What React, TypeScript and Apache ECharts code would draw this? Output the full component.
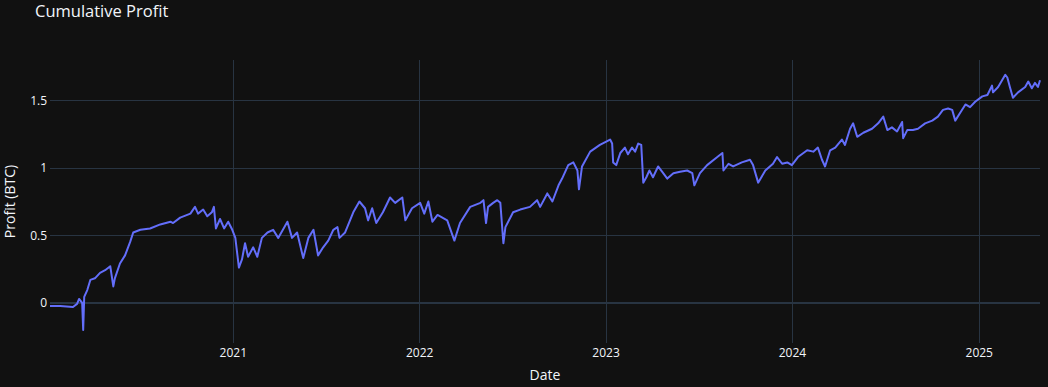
import React, { useEffect, useRef } from 'react';
import * as echarts from 'echarts';

const dates: string[] = [
  '2020-01-08','2020-01-28','2020-02-22','2020-03-01','2020-03-05','2020-03-11','2020-03-13','2020-03-15','2020-03-21','2020-03-27',
  '2020-04-05','2020-04-15','2020-04-25','2020-05-05','2020-05-11','2020-05-14','2020-05-24','2020-06-03','2020-06-13','2020-06-19',
  '2020-07-03','2020-07-22','2020-08-11','2020-08-31','2020-09-05','2020-09-19','2020-10-09','2020-10-18','2020-10-24','2020-11-03',
  '2020-11-11','2020-11-20','2020-11-24','2020-11-28','2020-12-06','2020-12-14','2020-12-22','2020-12-30',
  '2021-01-05','2021-01-12','2021-01-18','2021-01-24','2021-01-30','2021-02-09','2021-02-17','2021-02-26','2021-03-09','2021-03-20',
  '2021-03-30','2021-04-17','2021-04-26','2021-05-06','2021-05-18','2021-05-28','2021-06-07','2021-06-16','2021-06-26','2021-07-06',
  '2021-07-16','2021-07-24','2021-07-28','2021-08-08','2021-08-24','2021-09-05','2021-09-16','2021-09-22','2021-09-30','2021-10-08',
  '2021-10-21','2021-11-04','2021-11-14','2021-11-28','2021-12-04','2021-12-17',
  '2022-01-02','2022-01-10','2022-01-18','2022-01-26','2022-02-05','2022-02-24','2022-03-10','2022-03-21','2022-04-10','2022-04-30',
  '2022-05-06','2022-05-11','2022-05-15','2022-05-25','2022-06-02','2022-06-08','2022-06-14','2022-06-18','2022-07-03','2022-07-17',
  '2022-08-05','2022-08-19','2022-08-25','2022-09-08','2022-09-18','2022-09-30','2022-10-07','2022-10-19','2022-10-29','2022-11-06',
  '2022-11-09','2022-11-15','2022-12-01','2022-12-20',
  '2023-01-09','2023-01-13','2023-01-15','2023-01-21','2023-01-29','2023-02-07','2023-02-13','2023-02-21','2023-02-27','2023-03-05',
  '2023-03-11','2023-03-15','2023-03-21','2023-03-27','2023-04-03','2023-04-13','2023-04-23','2023-05-01','2023-05-13','2023-05-26',
  '2023-06-09','2023-06-19','2023-06-23','2023-07-04','2023-07-18','2023-08-07','2023-08-17','2023-08-19','2023-08-29','2023-09-07',
  '2023-09-24','2023-10-10','2023-10-16','2023-10-26','2023-11-09','2023-11-24','2023-12-02','2023-12-12','2023-12-22','2023-12-31',
  '2024-01-12','2024-01-30','2024-02-11','2024-02-20','2024-02-28','2024-03-05','2024-03-15','2024-03-25','2024-04-07','2024-04-13',
  '2024-04-23','2024-04-29','2024-05-07','2024-05-19','2024-06-05','2024-06-17','2024-06-27','2024-07-05','2024-07-14','2024-07-24',
  '2024-08-03','2024-08-05','2024-08-13','2024-08-24','2024-09-03','2024-09-17','2024-10-01','2024-10-12','2024-10-22','2024-11-01',
  '2024-11-09','2024-11-15','2024-11-25','2024-12-05','2024-12-14','2024-12-24',
  '2025-01-07','2025-01-17','2025-01-26','2025-01-28','2025-02-07','2025-02-21','2025-02-25','2025-03-02','2025-03-08','2025-03-18',
  '2025-04-01','2025-04-07','2025-04-14','2025-04-20','2025-04-26','2025-04-30',
];

const profit: number[] = [
  -0.025, -0.025, -0.033, -0.01, 0.027, -0.003, -0.203, 0.042, 0.093, 0.168,
  0.18, 0.22, 0.24, 0.27, 0.12, 0.18, 0.29, 0.35, 0.45, 0.52,
  0.54, 0.55, 0.58, 0.60, 0.59, 0.63, 0.66, 0.71, 0.66, 0.69,
  0.64, 0.67, 0.71, 0.55, 0.62, 0.55, 0.60, 0.54, 0.48, 0.26,
  0.32, 0.44, 0.34, 0.41, 0.34, 0.48, 0.52, 0.54, 0.48, 0.60,
  0.48, 0.52, 0.33, 0.48, 0.54, 0.35, 0.41, 0.46, 0.54, 0.56,
  0.48, 0.52, 0.67, 0.75, 0.70, 0.61, 0.70, 0.59, 0.67, 0.78,
  0.74, 0.78, 0.61, 0.70, 0.74, 0.66, 0.75, 0.60, 0.65, 0.61,
  0.46, 0.59, 0.71, 0.74, 0.76, 0.59, 0.71, 0.74, 0.76, 0.74,
  0.44, 0.56, 0.67, 0.69, 0.71, 0.76, 0.71, 0.81, 0.75, 0.87,
  0.92, 1.02, 1.04, 0.98, 0.84, 1.01, 1.12, 1.17, 1.21, 1.18,
  1.04, 1.02, 1.11, 1.15, 1.10, 1.15, 1.12, 1.18, 1.17, 0.89,
  0.93, 0.98, 0.93, 1.01, 0.96, 0.92, 0.96, 0.97, 0.98, 0.96,
  0.87, 0.96, 1.02, 1.08, 1.11, 0.98, 1.03, 1.01, 1.04, 1.06,
  1.02, 0.89, 0.98, 1.03, 1.08, 1.03, 1.04, 1.02, 1.08, 1.13,
  1.12, 1.15, 1.06, 1.01, 1.13, 1.15, 1.21, 1.17, 1.29, 1.33,
  1.23, 1.26, 1.29, 1.33, 1.38, 1.28, 1.30, 1.27, 1.34, 1.22,
  1.28, 1.28, 1.29, 1.33, 1.35, 1.38, 1.43, 1.44, 1.43, 1.35,
  1.41, 1.47, 1.45, 1.49, 1.53, 1.54, 1.61, 1.56, 1.60, 1.69,
  1.67, 1.60, 1.52, 1.56, 1.60, 1.64, 1.59, 1.63, 1.60, 1.65,
];

const xRange = ['2020-01-08', '2025-04-30'];
const yRange = [-0.3, 1.8];

const FONT = "'Open Sans', verdana, arial, sans-serif";
const TEXT = '#f2f5fa';
const GRID = '#283442';
const LINE = '#636efa';
const BG = '#111111';

export default function App() {
  const ref = useRef<HTMLDivElement>(null);

  useEffect(() => {
    document.body.style.margin = '0';
    document.body.style.background = BG;
    const chart = echarts.init(ref.current as HTMLDivElement, null, { renderer: 'svg' });
    chart.setOption({
      animation: false,
      backgroundColor: BG,
      textStyle: { fontFamily: FONT },
      title: {
        text: 'Cumulative Profit',
        left: 35,
        top: 2,
        padding: 0,
        textStyle: { color: TEXT, fontSize: 16.5, fontWeight: 'normal', fontFamily: FONT },
      },
      grid: { left: 50, right: 8, top: 60, bottom: 44, containLabel: false, outerBoundsMode: 'none' },
      xAxis: {
        type: 'time',
        min: xRange[0],
        max: xRange[1],
        splitNumber: 5,
        minInterval: 365 * 24 * 3600 * 1000,
        name: 'Date',
        nameLocation: 'middle',
        nameGap: 24,
        nameTextStyle: { color: TEXT, fontSize: 14, fontFamily: FONT },
        axisLine: { show: false },
        axisTick: { show: false },
        axisLabel: {
          color: TEXT,
          fontSize: 12,
          fontFamily: FONT,
          margin: 3,
          showMinLabel: false,
          showMaxLabel: false,
          formatter: (v: number) => {
            const d = new Date(v);
            return d.getMonth() === 0 && d.getDate() === 1 ? String(d.getFullYear()) : '';
          },
        },
        splitLine: { show: true, showMinLine: false, showMaxLine: false, lineStyle: { color: GRID, width: 1 } },
      },
      yAxis: {
        type: 'value',
        min: yRange[0],
        max: yRange[1],
        name: 'Profit (BTC)',
        nameLocation: 'middle',
        nameGap: 34,
        nameTextStyle: { color: TEXT, fontSize: 14, fontFamily: FONT },
        axisLine: { show: false },
        axisTick: { show: false },
        axisLabel: {
          color: TEXT,
          fontSize: 12,
          fontFamily: FONT,
          margin: 3,
          showMinLabel: false,
          showMaxLabel: false,
        },
        splitLine: { show: true, showMinLine: false, showMaxLine: false, lineStyle: { color: GRID, width: 1 } },
      },
      series: [
        {
          type: 'line',
          data: dates.map((d, i) => [d, profit[i]]),
          showSymbol: false,
          symbol: 'none',
          lineStyle: { color: LINE, width: 2, join: 'round' },
          itemStyle: { color: LINE },
          z: 3,
          markLine: {
            silent: true,
            symbol: 'none',
            z: 1,
            label: { show: false },
            lineStyle: { color: GRID, width: 2, type: 'solid' },
            emphasis: { disabled: true },
            data: [{ yAxis: 0 }],
          },
        },
      ],
    });
    return () => chart.dispose();
  }, []);

  return <div ref={ref} style={{ width: 1048, height: 387 }} />;
}
